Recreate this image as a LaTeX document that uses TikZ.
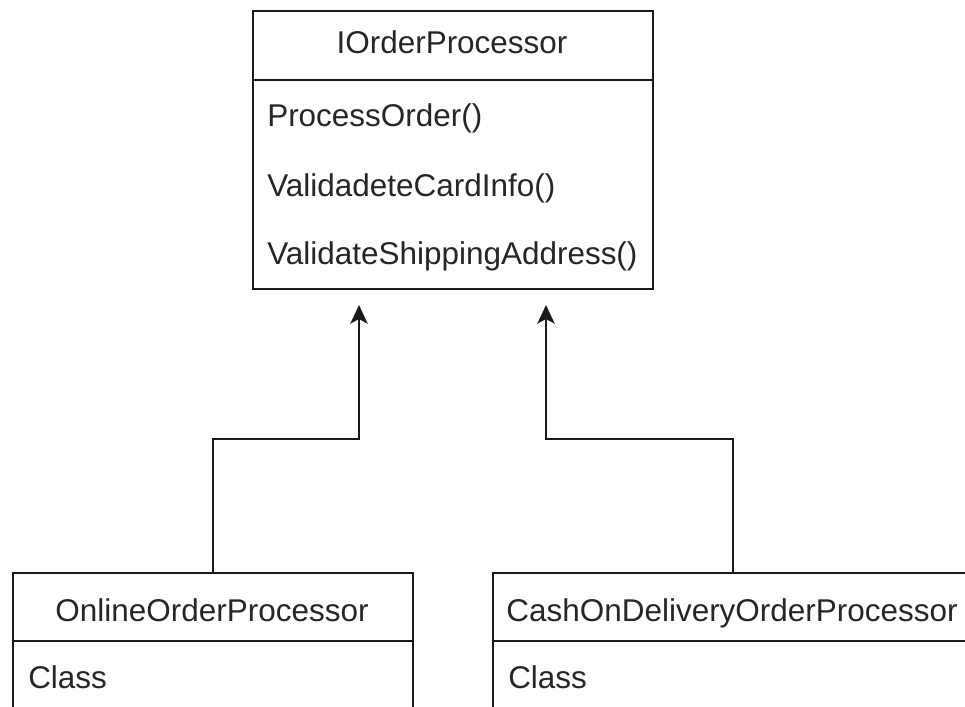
\documentclass[tikz,border=0pt]{standalone}
\usepackage{fontspec}
\setmainfont{Liberation Sans}
\usetikzlibrary{arrows.meta}

\begin{document}
\begin{tikzpicture}[x=0.75pt,y=-0.75pt,
  classbox/.style={draw=black!90,line width=1.5pt,rectangle,inner sep=0pt,anchor=north west},
  divider/.style={draw=black!90,line width=1.5pt},
  label/.style={inner sep=0pt,text=black!85,font=\fontsize{23.6pt}{28pt}\selectfont},
  realize/.style={draw=black!90,line width=1.5pt,
    -{Stealth[length=14pt,width=13pt,inset=3.5pt]}}
]
\useasboundingbox (0,0) rectangle (965,707);
\clip (0,0) rectangle (965,707);

% interface box
\node[classbox,minimum width=300pt,minimum height=208.5pt] (iface) at (252,10) {};
\draw[divider] (252,80) -- (652,80);
\node[label,anchor=base] (ifaceName) at (452,53) {IOrderProcessor};
\node[label,anchor=base west] (m1) at (267,126) {ProcessOrder()};
\node[label,anchor=base west] (m2) at (267,196) {ValidadeteCardInfo()};
\node[label,anchor=base west] (m3) at (267,264) {ValidateShippingAddress()};

% implementing classes
\node[classbox,minimum width=300pt,minimum height=150pt] (online) at (12,572) {};
\draw[divider] (12,641) -- (412,641);
\node[label,anchor=base] (onlineName) at (212,621) {OnlineOrderProcessor};
\node[label,anchor=base west] (onlineKind) at (28,688) {Class};

\node[classbox,minimum width=360pt,minimum height=150pt] (cod) at (492,572) {};
\draw[divider] (492,641) -- (972,641);
\node[label,anchor=base] (codName) at (732,621) {CashOnDeliveryOrderProcessor};
\node[label,anchor=base west] (codKind) at (508,688) {Class};

% realization connectors
\coordinate (tipL) at (359,305);
\coordinate (bendL) at (359,439);
\coordinate (tipR) at (546,305);
\coordinate (bendR) at (546,439);
\draw[realize] (online.north) |- (bendL) -- (tipL);
\draw[realize] (cod.north) |- (bendR) -- (tipR);
\end{tikzpicture}
\end{document}
